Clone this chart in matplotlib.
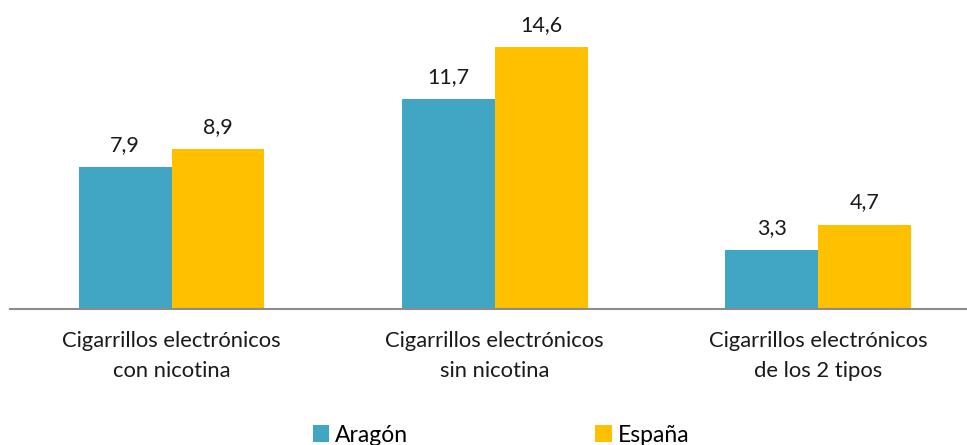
import matplotlib
matplotlib.use("Agg")
import matplotlib.pyplot as plt
import numpy as np
from matplotlib.patches import Patch

categories = ["Cigarrillos electrónicos\ncon nicotina",
              "Cigarrillos electrónicos\nsin nicotina",
              "Cigarrillos electrónicos\nde los 2 tipos"]
series_names = ["Aragón", "España"]
aragon = [7.9, 11.7, 3.3]
espana = [8.9, 14.6, 4.7]
colors = ["#41A6C4", "#FFC000"]

plt.rcParams['font.family'] = ['Lato', 'DejaVu Sans']

fig = plt.figure(figsize=(9.67, 4.45), dpi=100)
ax = fig.add_axes([10/967, 136/445, 957/967, (445-21.6-136)/445])

x = np.arange(len(categories))
w = 0.287
for i, (vals, c) in enumerate(zip([aragon, espana], colors)):
    pos = x + (i - 0.5) * w
    ax.bar(pos, vals, width=w, color=c, edgecolor='none')
    for xp, v in zip(pos, vals):
        ax.annotate(f"{v:.1f}".replace('.', ','), (xp, v), xytext=(0, 16),
                    textcoords='offset pixels',
                    ha='center', va='baseline', fontsize=15.5, color='#1a1a1a')

ax.set_xlim(-0.5, (967 - 172) / 323)
ax.set_ylim(0, 16)
for s in ['top', 'right', 'left']:
    ax.spines[s].set_visible(False)
ax.spines['bottom'].set_color('#8c8c8c')
ax.spines['bottom'].set_linewidth(1.5)
ax.set_yticks([])
ax.set_xticks(x)
ax.set_xticklabels(categories, fontsize=15.8, color='#1a1a1a', linespacing=1.6)
ax.tick_params(axis='x', length=0, pad=16)

handles = [Patch(facecolor=c, edgecolor='none') for c in colors]
fig.legend(handles, series_names, loc='center', bbox_to_anchor=(0.518, 10/445),
           ncol=2, frameon=False, fontsize=16.5, handlelength=0.72, handleheight=0.72,
           handletextpad=0.25, columnspacing=8.17, borderpad=0.1)

fig.savefig("out.png", dpi=100)
